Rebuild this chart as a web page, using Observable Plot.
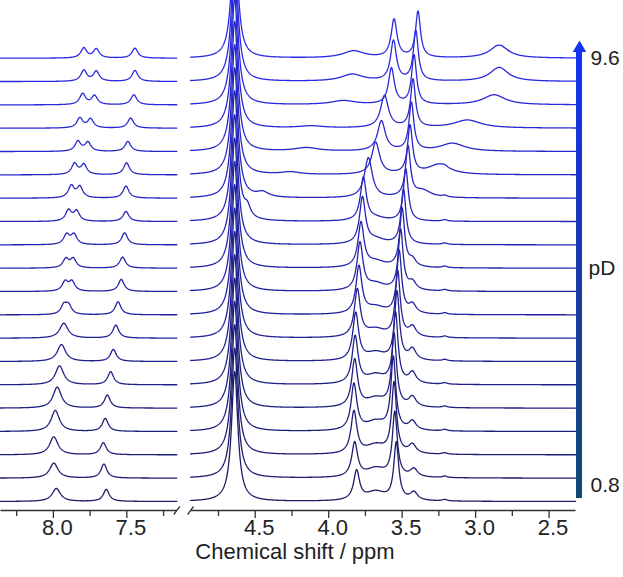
<!DOCTYPE html>
<html><head><meta charset="utf-8">
<script src="https://cdn.jsdelivr.net/npm/d3@7"></script>
<script src="https://cdn.jsdelivr.net/npm/@observablehq/plot@0.6"></script>
<style>
html,body{margin:0;padding:0;background:#fff;}
#chart{position:relative;width:623px;height:577px;overflow:hidden;}
</style></head><body><div id="chart"></div>
<script>
// Traces ordered from lowest pD (bottom trace, 0.8) to highest pD (top trace, 9.6).
// Peaks: shift (ppm), height (px above the trace baseline), half-width (ppm).

// aromatic region
const aromAShift  = [7.98, 7.997, 7.997, 7.987, 7.974, 7.958, 7.945, 7.929, 7.929, 7.92, 7.915, 7.91, 7.897, 7.878, 7.856, 7.833, 7.82, 7.801, 7.793, 7.793];
const aromAHeight = [13, 15, 18, 21, 21, 19, 17, 15, 9, 9.5, 9, 10, 11, 12, 11, 10, 10, 11, 11, 10];
const aromAWidth  = [0.034, 0.034, 0.034, 0.034, 0.034, 0.034, 0.034, 0.034, 0.024, 0.024, 0.024, 0.024, 0.024, 0.024, 0.024, 0.024, 0.024, 0.024, 0.024, 0.024];
const aromBShift  = [null, null, null, null, null, null, null, null, 7.897, 7.874, 7.865, 7.86, 7.842, 7.82, 7.793, 7.765, 7.747, 7.72, 7.708, 7.708];
const aromBHeight = [0, 0, 0, 0, 0, 0, 0, 0, 9, 9.5, 9, 10, 10, 11, 10, 9, 9, 9, 10, 9];
const aromSShift  = [7.64, 7.656, 7.66, 7.647, 7.633, 7.61, 7.592, 7.575, 7.56, 7.538, 7.529, 7.515, 7.506, 7.506, 7.502, 7.493, 7.474, 7.452, 7.445, 7.445];
const aromSHeight = [12, 14, 12, 13, 13, 13, 12, 13, 13, 12, 11, 12, 10, 12, 12, 10, 10, 10, 11, 10];

// aliphatic region
const hdoShift = 4.64, hdoHeight = 130, hdoWidth = 0.026;
const p1Shift  = [3.81, 3.823, 3.828, 3.828, 3.823, 3.82, 3.816, 3.805, 3.794, 3.787, 3.78, 3.77, 3.764, 3.73, 3.68, 3.641, 3.62, 3.573, 3.559, 3.555];
const p1Height = [29, 34, 42, 46, 47, 47, 47, 47, 47, 47, 44, 46, 43, 40, 32, 30, 32, 36, 40, 38];
const p1Width  = [0.024, 0.024, 0.024, 0.024, 0.024, 0.024, 0.024, 0.024, 0.024, 0.024, 0.024, 0.024, 0.024, 0.032, 0.032, 0.032, 0.032, 0.024, 0.024, 0.024];
const p2Shift  = [3.54, 3.55, 3.555, 3.56, 3.555, 3.545, 3.535, 3.53, 3.52, 3.51, 3.50, 3.491, 3.475, 3.46, 3.446, 3.437, 3.426, 3.419, 3.407, 3.392];
const p2Height = [57, 64, 70, 72, 72, 70, 68, 65, 62, 60, 58, 55, 52, 50, 48, 48, 48, 49, 50, 46];
const shShift  = [3.42, 3.42, 3.43, 3.43, 3.43, 3.43, 3.43, 3.43, 3.43, 3.43, 3.43, null, null, null, null, null, null, null, null, null];
const shHeight = [8, 8, 9, 9, 10, 11, 11, 10, 9, 8, 7, 0, 0, 0, 0, 0, 0, 0, 0, 0];
const humpShift = 3.68;
const humpHeight = [9, 9, 9, 9, 9, 9, 8, 8, 7, 7, 6, 5, 3, 0, 0, 0, 0, 0, 0, 0];
const smallShift = 3.21;
const smallHeight = [1.5, 1.5, 1.5, 1.5, 1.5, 1.5, 1.5, 1.5, 1.5, 1.5, 1.5, 1.5, 1.5, 1.5, 1.5, 0, 0, 0, 0, 0];
const wShift  = [null, null, null, null, null, null, null, null, null, null, null, null, 4.554, 4.45, 4.26, 4.15, 4.12, 3.9, 3.84, 3.83];
const wHeight = [0, 0, 0, 0, 0, 0, 0, 0, 0, 0, 0, 0, 10, 5, 2.5, 3.5, 2, 4, 7, 7];
const wWidth  = [0, 0, 0, 0, 0, 0, 0, 0, 0, 0, 0, 0, 0.025, 0.05, 0.08, 0.1, 0.1, 0.1, 0.09, 0.09];
const bShift  = [null, null, null, null, null, null, null, null, null, null, null, null, null, 3.36, 3.25, 3.157, 3.055, 2.874, 2.84, 2.84];
const bHeight = [0, 0, 0, 0, 0, 0, 0, 0, 0, 0, 0, 0, 0, 7, 10, 8, 8, 10, 14, 13];
const bWidth  = [0, 0, 0, 0, 0, 0, 0, 0, 0, 0, 0, 0, 0, 0.07, 0.09, 0.1, 0.11, 0.09, 0.075, 0.075];

// axis / colour bar labels
const majorTicks = [8.0, 7.5, 4.5, 4.0, 3.5, 3.0, 2.5];
const minorTicks = [8.25, 7.75, 7.25, 4.75, 4.25, 3.75, 3.25, 2.75];
const pdLabels = ["0.8", "9.6"];
const xTitle = "Chemical shift / ppm";

// ---- broken-axis mapping (ppm -> continuous panel coordinate) ----
const leftHi = 8.36, leftLo = 7.16, rightHi = 4.94, rightLo = 2.32, rightOffset = 1.294;
const toU = p => p > 6 ? leftHi - p : rightOffset + (rightHi - p);
const uLeftEnd = toU(leftLo), uRightStart = toU(rightHi), uEnd = toU(rightLo);
const nTraces = aromAShift.length;
const traceGap = 23.33;

function peaks(i) {
  const list = [];
  const add = (x0, h, g) => { if (x0 != null && h > 0) list.push([x0, h, g]); };
  add(aromAShift[i], aromAHeight[i], aromAWidth[i]);
  add(aromBShift[i], aromBHeight[i], 0.024);
  add(aromSShift[i], aromSHeight[i], 0.024);
  add(hdoShift, hdoHeight, hdoWidth);
  add(p1Shift[i], p1Height[i], p1Width[i]);
  add(p2Shift[i], p2Height[i], 0.02);
  add(shShift[i], shHeight[i], 0.03);
  add(humpShift, humpHeight[i], 0.08);
  add(smallShift, smallHeight[i], 0.02);
  add(wShift[i], wHeight[i], wWidth[i]);
  add(bShift[i], bHeight[i], bWidth[i]);
  return list;
}
const intensity = (pk, x) => pk.reduce((s, [x0, h, g]) => s + h * g * g / (g * g + (x - x0) * (x - x0)), 0);

const rows = [];
for (let i = 0; i < nTraces; i++) {
  const pk = peaks(i);
  const base = i * traceGap;
  [[leftHi, leftLo, 0], [rightHi, rightLo, 1]].forEach(([hi, lo, seg]) => {
    const n = Math.round((hi - lo) / 0.0025);
    for (let k = 0; k <= n; k++) {
      const p = hi - (hi - lo) * k / n;
      rows.push({u: toU(p), v: base + intensity(pk, p), i, z: i * 2 + seg});
    }
  });
}

const axisY = -9;
const px = 575 / uEnd; // pixels per unit, for small decorations
const axisSegs = [{x1: 0, x2: uLeftEnd}, {x1: uRightStart, x2: uEnd}];
const breaks = [uLeftEnd, uRightStart].map(c => ({x1: c - 3 / px, x2: c + 3 / px, y1: axisY - 4, y2: axisY + 4}));
const barX = 579 / px;
const topBase = (nTraces - 1) * traceGap;

const chart = Plot.plot({
  width: 623, height: 577,
  marginLeft: 0, marginRight: 48, marginTop: 0, marginBottom: 67,
  x: {domain: [0, uEnd], axis: null},
  y: {domain: [axisY, 501], axis: null},
  color: {type: "linear", domain: [0, nTraces - 1], range: ["#1d1d68", "#2a2ae6"], interpolate: "rgb"},
  style: {fontFamily: "'Liberation Sans', Arial, sans-serif", background: "#fff"},
  marks: [
    Plot.line(rows, {x: "u", y: "v", z: "z", stroke: "i", strokeWidth: 1.3, curve: "linear"}),
    Plot.link(axisSegs, {x1: "x1", x2: "x2", y1: axisY, y2: axisY, stroke: "#333", strokeWidth: 1.5}),
    Plot.link(breaks, {x1: "x1", x2: "x2", y1: "y1", y2: "y2", stroke: "#333", strokeWidth: 1.3}),
    Plot.ruleX(majorTicks, {x: d => toU(d), y1: axisY, y2: axisY - 8, stroke: "#333", strokeWidth: 1.3}),
    Plot.ruleX(minorTicks, {x: d => toU(d), y1: axisY, y2: axisY - 6, stroke: "#333", strokeWidth: 1.3}),
    Plot.text(majorTicks, {x: d => toU(d), y: axisY - 17, text: d => d.toFixed(1), fontSize: 22, fill: "#222", dx: 4}),
    Plot.text([xTitle], {frameAnchor: "bottom", lineAnchor: "middle", dy: 41, dx: 7, fontSize: 22, fill: "#222"}),
    Plot.rect([0], {x1: barX - 3 / px, x2: barX + 3 / px, y1: 3, y2: topBase + 8, fill: "url(#pdGrad)"}),
    Plot.dot([0], {x: barX, y: topBase + 10, symbol: "triangle", r: 5, fill: "#1133f2", stroke: "none"}),
    Plot.text(pdLabels, {x: 590 / px, y: (d, k) => k === 0 ? 16 : topBase, text: d => d, textAnchor: "start", fontSize: 21, fill: "#222"}),
    Plot.text(["pD"], {x: 588 / px, y: 233, textAnchor: "start", fontSize: 21, fill: "#222"})
  ]
});

const svgNS = "http://www.w3.org/2000/svg";
const defs = document.createElementNS(svgNS, "defs");
defs.innerHTML = '<linearGradient id="pdGrad" x1="0" y1="1" x2="0" y2="0">' +
  '<stop offset="0" stop-color="#0f4a73"/><stop offset="0.5" stop-color="#1c39a8"/><stop offset="1" stop-color="#1133f2"/></linearGradient>';
chart.insertBefore(defs, chart.firstChild);
document.getElementById("chart").appendChild(chart);
</script></body></html>
